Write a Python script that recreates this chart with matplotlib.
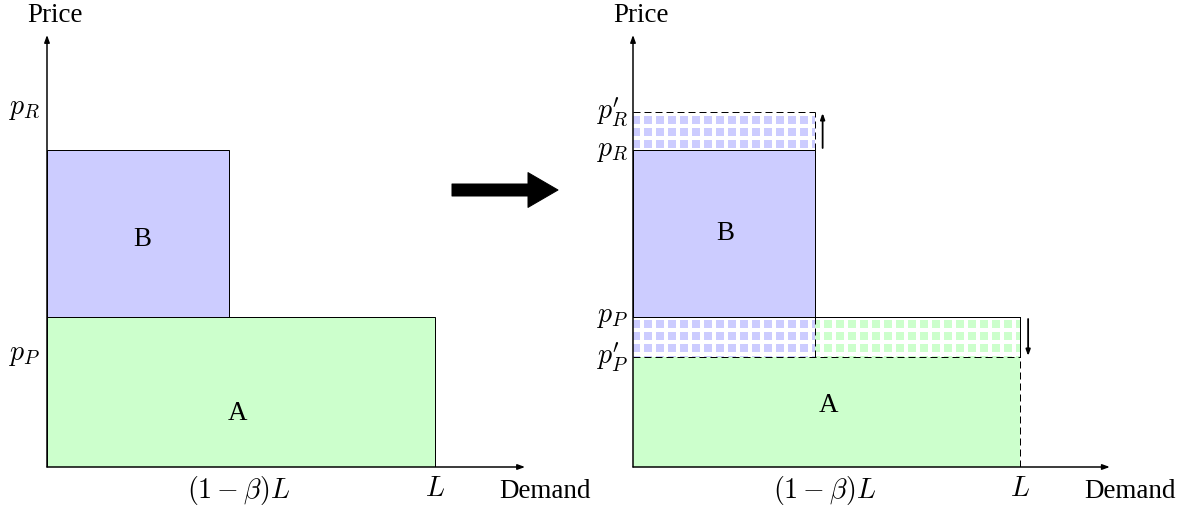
import matplotlib
matplotlib.use('Agg')
import matplotlib.pyplot as plt
from matplotlib.patches import Rectangle

# price / demand levels (demand in units of L, price in plot units)
L = 1.0
beta = 0.53
split = (1 - beta) * L
p_P = 1.50
p_R = 3.17
p_P_new = 1.10
p_R_new = 3.55

blue = '#ccccff'
green = '#ccffcc'

plt.rcParams['mathtext.fontset'] = 'cm'
plt.rcParams['font.family'] = 'Liberation Serif'
plt.rcParams['hatch.linewidth'] = 4.0

DPI = 72
fig = plt.figure(figsize=(1204 / DPI, 507 / DPI), dpi=DPI)

axL = fig.add_axes([47 / 1204, 40 / 507, 480 / 1204, 440 / 507])
axR = fig.add_axes([633 / 1204, 40 / 507, 480 / 1204, 440 / 507])
for ax, xs in ((axL, 388.), (axR, 387.)):
    ax.set_xlim(0, 480 / xs)
    ax.set_ylim(0, 4.4)
    ax.axis('off')

fs_txt = 27
fs_math = 28


def draw_axes(ax):
    ax.annotate('', xy=(1.232, 0), xytext=(0, 0),
                arrowprops=dict(arrowstyle='-|>,head_length=0.6,head_width=0.22',
                                lw=1.5, color='black', shrinkA=0, shrinkB=0))
    ax.annotate('', xy=(0, 4.32), xytext=(0, 0),
                arrowprops=dict(arrowstyle='-|>,head_length=0.6,head_width=0.22',
                                lw=1.5, color='black', shrinkA=0, shrinkB=0))
    ax.text(0.02, 4.52, 'Price', fontsize=fs_txt, ha='center', va='center')
    ax.text(1.283, -0.24, 'Demand', fontsize=fs_txt, ha='center', va='center')
    ax.text(split + 0.025, -0.23, r'$(1-\beta)L$', fontsize=fs_math, ha='center', va='center')
    ax.text(L, -0.23, r'$L$', fontsize=fs_math, ha='center', va='center')


# ---- left panel ----
axL.add_patch(Rectangle((0, p_P), split, p_R - p_P, facecolor=blue, edgecolor='black', lw=1.0, zorder=1))
axL.add_patch(Rectangle((0, 0), L, p_P, facecolor=green, edgecolor='black', lw=1.0, zorder=1))
axL.text(0.245, 2.27, 'B', fontsize=fs_txt, ha='center', va='center')
axL.text(0.49, 0.54, 'A', fontsize=fs_txt, ha='center', va='center')
axL.text(-0.018, p_R + 0.40, r'$p_R$', fontsize=fs_math, ha='right', va='center')
axL.text(-0.018, p_P - 0.38, r'$p_P$', fontsize=fs_math, ha='right', va='center')
draw_axes(axL)

# ---- right panel ----
dash = (0, (7, 4))
# new A (lower price)
axR.add_patch(Rectangle((0, 0), L, p_P_new, facecolor=green, edgecolor='none', zorder=1))
# removed part of A (hatched)
axR.add_patch(Rectangle((0, p_P_new), L, p_P - p_P_new, facecolor=green, edgecolor='white',
                        hatch='+', lw=0, zorder=1))
axR.add_patch(Rectangle((0, p_P_new), split, p_P - p_P_new, facecolor=blue, edgecolor='white',
                        hatch='+', lw=0, zorder=1))
# B
axR.add_patch(Rectangle((0, p_P), split, p_R - p_P, facecolor=blue, edgecolor='black', lw=1.0, zorder=2))
# added part of B (hatched)
axR.add_patch(Rectangle((0, p_R), split, p_R_new - p_R, facecolor=blue, edgecolor='white',
                        hatch='+', lw=0, zorder=1))
# outlines
axR.plot([0, L], [p_P, p_P], color='black', lw=1.0, zorder=3)
axR.plot([L, L], [p_P, p_P_new], color='black', lw=1.0, zorder=3)
axR.plot([0, L], [p_P_new, p_P_new], color='black', lw=1.0, ls=dash, zorder=3)
axR.plot([L, L], [0, p_P_new], color='black', lw=1.0, ls=dash, zorder=3)
axR.plot([split, split], [p_P_new, p_P], color='black', lw=1.0, ls=dash, zorder=3)
axR.plot([0, split], [p_R_new, p_R_new], color='black', lw=1.0, ls=dash, zorder=3)
axR.plot([split, split], [p_R, p_R_new], color='black', lw=1.0, ls=dash, zorder=3)

# small shift arrows
axR.annotate('', xy=(split + 0.02, p_R_new - 0.01), xytext=(split + 0.02, p_R + 0.02),
             arrowprops=dict(arrowstyle='-|>,head_length=0.5,head_width=0.18',
                             lw=1.8, color='black', shrinkA=0, shrinkB=0))
axR.annotate('', xy=(L + 0.021, p_P_new + 0.01), xytext=(L + 0.021, p_P - 0.02),
             arrowprops=dict(arrowstyle='-|>,head_length=0.5,head_width=0.18',
                             lw=1.8, color='black', shrinkA=0, shrinkB=0))

axR.text(0.238, 2.34, 'B', fontsize=fs_txt, ha='center', va='center')
axR.text(0.505, 0.61, 'A', fontsize=fs_txt, ha='center', va='center')
axR.text(-0.013, p_R_new, r"$p_R'$", fontsize=fs_math, ha='right', va='center')
axR.text(-0.013, p_R - 0.02, r'$p_R$', fontsize=fs_math, ha='right', va='center')
axR.text(-0.013, p_P, r'$p_P$', fontsize=fs_math, ha='right', va='center')
axR.text(-0.013, p_P_new, r"$p_P'$", fontsize=fs_math, ha='right', va='center')
draw_axes(axR)

# big transition arrow
fig.patches.append(matplotlib.patches.FancyArrowPatch(
    (450 / 1204, 1 - 190 / 507), (560 / 1204, 1 - 190 / 507), transform=fig.transFigure,
    arrowstyle='simple,head_length=1.25,head_width=1.45,tail_width=0.5',
    mutation_scale=24, color='black'))

plt.savefig('out.png', dpi=DPI)
